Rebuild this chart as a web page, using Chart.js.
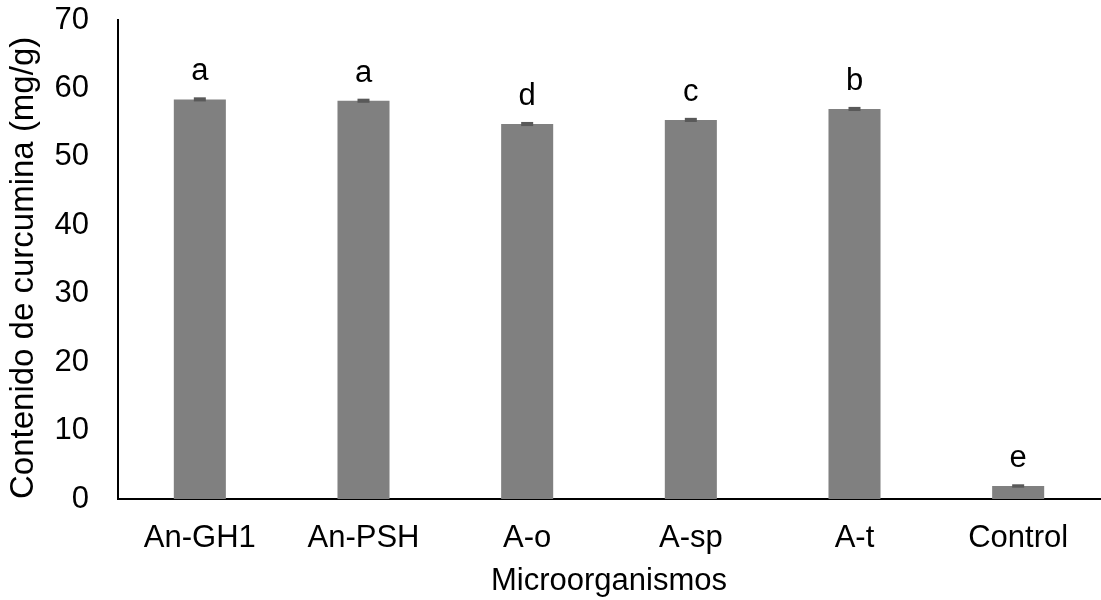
<!DOCTYPE html>
<html>
<head>
<meta charset="utf-8">
<script src="https://cdn.jsdelivr.net/npm/chart.js@4"></script>
<style>
  html, body { margin: 0; padding: 0; background: #fff; }
  #wrap { width: 1101px; height: 600px; }
</style>
</head>
<body>
<div id="wrap"><canvas id="chart" width="1101" height="600"></canvas></div>
<script>
const categories = ['An-GH1', 'An-PSH', 'A-o', 'A-sp', 'A-t', 'Control'];
const curcumina = [58.4, 58.2, 54.8, 55.4, 57.0, 1.9];
const errors = [0.3, 0.3, 0.3, 0.3, 0.3, 0.25];
const letters = ['a', 'a', 'd', 'c', 'b', 'e'];

Chart.defaults.font.family = "'Liberation Sans', Arial, sans-serif";
Chart.defaults.font.size = 31;
Chart.defaults.color = '#000';

const extras = {
    id: 'extras',
    afterDatasetsDraw(chart) {
        const c = chart.ctx;
        const x = chart.scales.x, y = chart.scales.y;
        c.save();
        curcumina.forEach((v, i) => {
            const cx = x.getPixelForValue(i);
            const top = y.getPixelForValue(v + errors[i]);
            const bot = y.getPixelForValue(v - errors[i]);
            c.fillStyle = '#595959';
            c.fillRect(cx - 6, top, 12, Math.max(bot - top, 2));
            c.fillStyle = '#000';
            c.font = "31px 'Liberation Sans', Arial, sans-serif";
            c.textAlign = 'center';
            c.textBaseline = 'alphabetic';
            c.fillText(letters[i], cx, top - 17);
        });
        c.restore();
    }
};

const chart = new Chart(document.getElementById('chart'), {
    type: 'bar',
    data: {
        labels: categories,
        datasets: [{
            data: curcumina,
            backgroundColor: '#808080',
            categoryPercentage: 1,
            barPercentage: 0.318
        }]
    },
    options: {
        responsive: false,
        animation: false,
        layout: { padding: { top: 20, right: 1, left: 0, bottom: 0 } },
        plugins: {
            legend: { display: false },
            tooltip: { enabled: false }
        },
        scales: {
            x: {
                grid: { display: false, drawTicks: false },
                border: { color: '#000', width: 2 },
                ticks: { padding: 21, color: '#000' },
                title: { display: true, text: 'Microorganismos', color: '#000', padding: { top: 0, bottom: 0 } },
                afterFit(scale) { scale.height = 101; }
            },
            y: {
                min: 0,
                max: 70,
                grid: { display: false, drawTicks: false },
                border: { color: '#000', width: 2 },
                ticks: { stepSize: 10, padding: 29, color: '#000' },
                title: {
                    display: true, text: 'Contenido de curcumina (mg/g)', color: '#000',
                    align: 'start', font: { size: 33 }, padding: { top: 4, bottom: 10 }
                },
                afterFit(scale) {
                    scale.width = 118;
                    scale.paddingTop = 0;
                }
            }
        }
    },
    plugins: [extras]
});
</script>
</body>
</html>
